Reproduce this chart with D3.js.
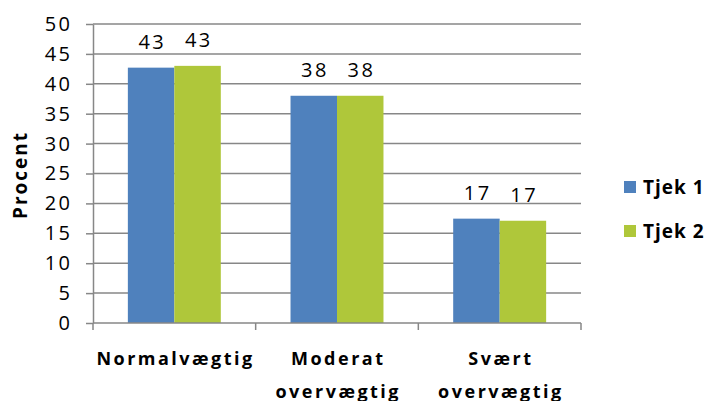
<!DOCTYPE html>
<html>
<head>
<meta charset="utf-8">
<script src="https://cdn.jsdelivr.net/npm/d3@7"></script>
<style>
  body { margin: 0; background: #fff; }
  .chart text { font-family: "Open Sans", sans-serif; fill: #000; }
</style>
</head>
<body>
<div class="chart"></div>
<script>
var categories = ["Normalvægtig", "Moderat overvægtig", "Svært overvægtig"];
var seriesNames = ["Tjek 1", "Tjek 2"];
var tjek1 = [42.7, 38.0, 17.45];
var tjek2 = [43.0, 38.0, 17.1];
var yTicks = [0, 5, 10, 15, 20, 25, 30, 35, 40, 45, 50];
var colors = ["#4f81bd", "#afc73a"];

var svgWidth = 707;
var svgHeight = 401;

var margin = { top: 24, right: 126, bottom: 78, left: 93 };
var width = svgWidth - margin.left - margin.right;
var height = svgHeight - margin.top - margin.bottom;

var svg = d3.select(".chart")
  .append("svg")
  .attr("width", svgWidth)
  .attr("height", svgHeight);

var chartGroup = svg.append("g")
  .attr("transform", `translate(${margin.left}, ${margin.top})`);

var rows = categories.map(function(c, i) {
  return { cat: c, values: [tjek1[i], tjek2[i]] };
});

var x0 = d3.scaleBand().domain(categories).range([0, width]);
var x1 = d3.scaleBand().domain(seriesNames).range([0, x0.bandwidth()])
  .paddingInner(0).paddingOuter(0.75);
var y = d3.scaleLinear().domain([0, 50]).range([height, 0]);

// gridlines
chartGroup.append("g")
  .selectAll("line")
  .data(yTicks.slice(1))
  .enter()
  .append("line")
  .attr("x1", 0)
  .attr("x2", width)
  .attr("y1", d => y(d))
  .attr("y2", d => y(d))
  .attr("stroke", "#878787")
  .attr("stroke-width", 1.5);

// left axis
var leftAxis = d3.axisLeft(y).tickValues(yTicks).tickSize(7).tickSizeOuter(0).tickPadding(13.5);
var yAxis = chartGroup.append("g").call(leftAxis);
yAxis.select(".domain").attr("stroke", "#878787").attr("stroke-width", 1.5);
yAxis.selectAll(".tick line").attr("stroke", "#878787").attr("stroke-width", 1.5);
yAxis.selectAll(".tick text")
  .attr("font-size", 20)
  .attr("letter-spacing", 2.5)
  .attr("font-family", "Open Sans");

// bars
var groups = chartGroup.selectAll(".cat")
  .data(rows)
  .enter()
  .append("g")
  .attr("transform", d => `translate(${x0(d.cat)}, 0)`);

groups.selectAll("rect")
  .data(d => d.values.map((v, i) => ({ name: seriesNames[i], value: v, i: i })))
  .enter()
  .append("rect")
  .attr("x", d => x1(d.name))
  .attr("y", d => y(d.value))
  .attr("width", x1.bandwidth())
  .attr("height", d => height - y(d.value))
  .attr("fill", d => colors[d.i]);

groups.selectAll(".lbl")
  .data(d => d.values.map((v, i) => ({ name: seriesNames[i], value: v })))
  .enter()
  .append("text")
  .attr("x", d => x1(d.name) + x1.bandwidth() / 2)
  .attr("y", d => y(d.value) - 19)
  .attr("dx", 1.25)
  .attr("text-anchor", "middle")
  .attr("font-size", 20)
  .attr("letter-spacing", 2.5)
  .text(d => Math.round(d.value));

// bottom axis line and boundary ticks
chartGroup.append("line")
  .attr("x1", 0).attr("x2", width)
  .attr("y1", height).attr("y2", height)
  .attr("stroke", "#878787").attr("stroke-width", 1.5);

chartGroup.append("g")
  .selectAll("line")
  .data(d3.range(categories.length + 1))
  .enter()
  .append("line")
  .attr("x1", d => d * x0.step())
  .attr("x2", d => d * x0.step())
  .attr("y1", height)
  .attr("y2", height + 7)
  .attr("stroke", "#878787")
  .attr("stroke-width", 1.5);

// category labels (second line runs off the bottom edge, as in the original)
var catLabels = chartGroup.append("g")
  .selectAll("text")
  .data(categories)
  .enter()
  .append("text")
  .attr("y", height + 42)
  .attr("text-anchor", "middle")
  .attr("font-size", 18)
  .attr("font-weight", "bold")
  .attr("letter-spacing", 2.5);

catLabels.each(function(d) {
  var words = d.split(" ");
  var t = d3.select(this);
  words.forEach(function(w, i) {
    t.append("tspan")
      .attr("x", x0(d) + x0.bandwidth() / 2 + 1.25)
      .attr("dy", i === 0 ? 0 : 33)
      .text(w);
  });
});

// y axis title
chartGroup.append("text")
  .attr("transform", "rotate(-90)")
  .attr("x", 0 - 151)
  .attr("y", 0 - margin.left + 27)
  .attr("text-anchor", "middle")
  .attr("font-size", 19)
  .attr("font-weight", "bold")
  .attr("letter-spacing", 2)
  .text("Procent");

// legend
var legend = svg.append("g")
  .selectAll("g")
  .data(seriesNames)
  .enter()
  .append("g")
  .attr("transform", (d, i) => `translate(624, ${187 + i * 44})`);

legend.append("rect")
  .attr("x", 0)
  .attr("y", -6)
  .attr("width", 12)
  .attr("height", 12)
  .attr("fill", (d, i) => colors[i]);

legend.append("text")
  .attr("x", 19)
  .attr("y", 7)
  .attr("font-size", 19)
  .attr("font-weight", "bold")
  .attr("letter-spacing", 1)
  .text(d => d);
</script>
</body>
</html>
